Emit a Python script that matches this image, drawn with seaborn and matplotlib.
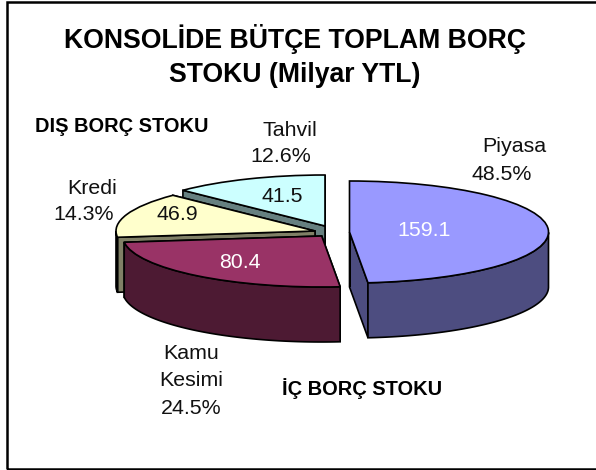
# Consolidated budget debt stock - exploded 3D style pie

import numpy as np
import matplotlib
matplotlib.use('Agg')
import matplotlib.pyplot as plt
import seaborn as sns

# Chart data

labels = ['Piyasa', 'Kamu\nKesimi', 'Kredi', 'Tahvil']
values = [159.1, 80.4, 46.9, 41.5]
percents = [48.5, 24.5, 14.3, 12.6]
title = 'KONSOLİDE BÜTÇE TOPLAM BORÇ\nSTOKU (Milyar YTL)'
group_labels = ['DIŞ BORÇ STOKU', 'İÇ BORÇ STOKU']

top_colors = ['#9999FF', '#993366', '#FFFFCC', '#CCFFFF']
side_colors = ['#4D4D80', '#4D1A33', '#808066', '#668080']
value_colors = ['white', 'white', '#111111', '#111111']

sns.set_theme(style = 'white')
plt.rcParams['font.family'] = ['Liberation Sans', 'DejaVu Sans']

W, H = 596, 470
RX, RY = 199, 51        # ellipse radii in pixels
DEPTH = 55              # height of the pie wall in pixels
stretch = RX / RY       # the axes squash y so a circle turns into the ellipse


def to_y(pixel_y):
    return (H - pixel_y) * stretch


# slice centres after exploding, in picture pixels
centers = [(349.5, 232), (321.7, 236), (315, 231), (325, 226)]
value_pos = [(424, 230), (240, 262), (177, 214), (282, 197)]
label_pos = [(514, 147), (191, 367), (92, 188), (290, 130)]
percent_pos = [(502, 175), (191, 408), (84, 215), (281, 157)]

fig = plt.figure(figsize = (W / 100, H / 100), dpi = 100, facecolor = 'white')
ax = fig.add_axes([0, 0, 1, 1])

# Drawing back to front so the nearer slices cover the walls behind them

for i in [3, 2, 1, 0]:
    cx, cy = centers[i][0], to_y(centers[i][1])
    wedges, _ = ax.pie(values, startangle = 90, counterclock = False,
                       center = (cx, cy), radius = RX, colors = top_colors,
                       wedgeprops = {'edgecolor': 'black', 'linewidth': 1.2})
    for j, w in enumerate(wedges):
        w.set_visible(j == i)
    w = wedges[i]
    w.set_zorder(10 * (4 - i) + 2)

    drop = DEPTH * stretch
    t = np.radians(np.linspace(w.theta1, w.theta2, 200))
    xs = cx + RX * np.cos(t)
    ys = cy + RX * np.sin(t)

    # flat walls along both cut edges
    for k in [0, -1]:
        ax.fill([cx, xs[k], xs[k], cx], [cy, ys[k], ys[k] - drop, cy - drop],
                facecolor = side_colors[i], edgecolor = 'black',
                linewidth = 1.2, zorder = 10 * (4 - i))

    # curved wall, only the part that faces the viewer
    front = np.sin(t) <= 0
    if front.any():
        ax.fill(np.r_[xs[front], xs[front][::-1]],
                np.r_[ys[front], ys[front][::-1] - drop],
                facecolor = side_colors[i], edgecolor = 'black',
                linewidth = 1.2, zorder = 10 * (4 - i) + 1)

ax.set_aspect('auto')
ax.set_xlim(0, W)
ax.set_ylim(0, to_y(0))
ax.axis('off')

# Texts

ax.text(295, to_y(56), title, ha = 'center', va = 'center', fontsize = 19.2,
        fontweight = 'bold', color = 'black', linespacing = 1.44)
ax.text(122, to_y(126), group_labels[0], ha = 'center', va = 'center',
        fontsize = 14.4, fontweight = 'bold', color = 'black')
ax.text(362, to_y(389), group_labels[1], ha = 'center', va = 'center',
        fontsize = 14.4, fontweight = 'bold', color = 'black')

for i in range(len(values)):
    ax.text(value_pos[i][0], to_y(value_pos[i][1]), str(values[i]),
            ha = 'center', va = 'center', fontsize = 15.4,
            color = value_colors[i], zorder = 100)
    ax.text(label_pos[i][0], to_y(label_pos[i][1]), labels[i],
            ha = 'center', va = 'center', fontsize = 15.4,
            color = '#111111', linespacing = 1.5)
    ax.text(percent_pos[i][0], to_y(percent_pos[i][1]), f'{percents[i]}%',
            ha = 'center', va = 'center', fontsize = 15.4, color = '#111111')

# Chart border: the right side runs off the picture

fig.add_artist(plt.Rectangle((7.5 / W, 1 - 468.5 / H), 700 / W, 467 / H,
                             transform = fig.transFigure, fill = False,
                             edgecolor = 'black', linewidth = 1.8))

fig.savefig('out.png', dpi = 100)
